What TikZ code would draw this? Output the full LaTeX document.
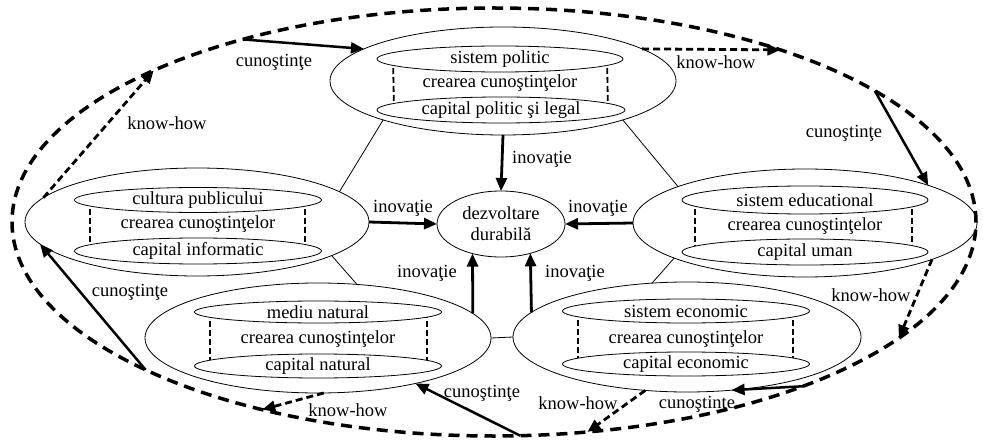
\documentclass[tikz,border=0pt]{standalone}
\usepackage{fontspec}
\setmainfont{Liberation Serif}
\usetikzlibrary{shapes.geometric,arrows.meta,backgrounds}
\begin{document}
\begin{tikzpicture}[x=1pt,y=-1pt,
  every node/.style={font=\fontsize{18.5}{21}\selectfont},
  oval/.style={ellipse,draw,line width=0.8pt,inner sep=0pt,outer sep=0pt},
  inoval/.style={oval,fill=white},
  txt/.style={inner sep=0pt,align=center},
  thinline/.style={line width=0.8pt},
  cylside/.style={line width=1.8pt,dash pattern=on 6pt off 3pt},
  bigdash/.style={ellipse,draw,inner sep=0pt,outer sep=0pt,line width=3.5pt,dash pattern=on 11pt off 7pt},
  innarr/.style={line width=2.8pt,-{Triangle[length=13pt,width=11pt]}},
  solidarr/.style={line width=2.5pt,-{Triangle[length=13pt,width=11pt]}},
  dasharr/.style={line width=2.8pt,dash pattern=on 7pt off 4pt,-{Triangle[length=13pt,width=11pt]}},
]
\useasboundingbox (0,0) rectangle (983,441);

% big dashed ellipse
\node[bigdash,minimum width=964pt,minimum height=428pt] (big) at (494,222) {};

% subsystem outer ellipses
\node[oval,minimum width=346pt,minimum height=108pt] (pol) at (503,81) {};
\node[oval,minimum width=344pt,minimum height=108pt] (cul) at (197,222) {};
\node[oval,minimum width=344pt,minimum height=108pt] (edu) at (805,223) {};
\node[oval,minimum width=346pt,minimum height=110pt] (nat) at (318,338) {};
\node[oval,minimum width=348pt,minimum height=110pt] (eco) at (687,337) {};
\node[oval,minimum width=128pt,minimum height=66pt] (dev) at (501,224) {};

% inner ellipses
\node[inoval,minimum width=246pt,minimum height=26pt] (polA) at (500,59) {};
\node[inoval,minimum width=248pt,minimum height=26pt] (polB) at (501,110) {};
\node[inoval,minimum width=247pt,minimum height=25pt] (culA) at (198,200) {};
\node[inoval,minimum width=247pt,minimum height=26pt] (culB) at (198,251) {};
\node[inoval,minimum width=246pt,minimum height=28pt] (eduA) at (805,200) {};
\node[inoval,minimum width=246pt,minimum height=26pt] (eduB) at (805,252) {};
\node[inoval,minimum width=247pt,minimum height=22pt] (natA) at (318,312) {};
\node[inoval,minimum width=247pt,minimum height=24pt] (natB) at (318,366) {};
\node[inoval,minimum width=247pt,minimum height=24pt] (ecoA) at (686,311) {};
\node[inoval,minimum width=247pt,minimum height=24pt] (ecoB) at (686,364) {};

% dashed cylinder sides
\begin{scope}[on background layer]
\draw[cylside] ([xshift=-107pt]polA.center) -- ([xshift=-107pt]polB.center);
\draw[cylside] ([xshift=107pt]polA.center) -- ([xshift=107pt]polB.center);
\draw[cylside] ([xshift=-108pt]culA.center) -- ([xshift=-108pt]culB.center);
\draw[cylside] ([xshift=107pt]culA.center) -- ([xshift=107pt]culB.center);
\draw[cylside] ([xshift=-110pt]eduA.center) -- ([xshift=-110pt]eduB.center);
\draw[cylside] ([xshift=107pt]eduA.center) -- ([xshift=107pt]eduB.center);
\draw[cylside] ([xshift=-108pt]natA.center) -- ([xshift=-108pt]natB.center);
\draw[cylside] ([xshift=109pt]natA.center) -- ([xshift=109pt]natB.center);
\draw[cylside] ([xshift=-108pt]ecoA.center) -- ([xshift=-108pt]ecoB.center);
\draw[cylside] ([xshift=107pt]ecoA.center) -- ([xshift=107pt]ecoB.center);
\end{scope}

% texts
\node[txt] (polAt) at (500,59) {sistem politic};
\node[txt] (polM) at (500,83) {crearea cunoştinţelor};
\node[txt] (polBt) at (501,110) {capital politic şi legal};
\node[txt] (culAt) at (198,200) {cultura publicului};
\node[txt] (culM) at (198,224) {crearea cunoştinţelor};
\node[txt] (culBt) at (198,251) {capital informatic};
\node[txt] (eduAt) at (805,200) {sistem educational};
\node[txt] (eduM) at (805,226) {crearea cunoştinţelor};
\node[txt] (eduBt) at (805,252) {capital uman};
\node[txt] (natAt) at (318,312) {mediu natural};
\node[txt] (natM) at (318,339) {crearea cunoştinţelor};
\node[txt] (natBt) at (318,366) {capital natural};
\node[txt] (ecoAt) at (686,311) {sistem economic};
\node[txt] (ecoM) at (686,339) {crearea cunoştinţelor};
\node[txt] (ecoBt) at (686,364) {capital economic};
\node[txt] (devt) at (501,224) {dezvoltare\\durabilă};

% thin connecting lines
\draw[thinline] (pol.198.4) -- (cul.12.8);
\draw[thinline] (pol.-18.8) -- (edu.164.7);
\draw[thinline] (cul.-14.2) -- (nat.54.2);
\draw[thinline] (edu.195.9) -- (eco.123);
\draw[thinline] (nat.east) -- (eco.west);

% innovation arrows
\draw[innarr] (pol.south) -- (dev.north);
\draw[innarr] (cul.east) -- (dev.west);
\draw[innarr] (edu.west) -- (dev.east);
\draw[innarr] (nat.9.2) -- (dev.-134.6);
\draw[innarr] (eco.171.4) -- (dev.-45.4);
\node[txt] (i1) at (542,159) {inovaţie};
\node[txt] (i2) at (403,208) {inovaţie};
\node[txt] (i3) at (598,208) {inovaţie};
\node[txt] (i4) at (427,273) {inovaţie};
\node[txt] (i5) at (575,273) {inovaţie};

% knowledge arrows (cunostinte)
\draw[solidarr] (big.144.3) -- (pol.167);
\draw[solidarr] (big.19.7) -- (edu.17.2);
\draw[solidarr] (big.-28.6) -- (eco.-50.9);
\draw[solidarr] (big.-83.1) -- (nat.-25.6);
\draw[solidarr] (big.203.7) -- (cul.188.3);

% know-how arrows
\draw[dasharr] (pol.13.8) -- (big.31.2);
\draw[dasharr] (edu.-16.1) -- (big.-16.1);
\draw[dasharr] (eco.-128.4) -- (big.-66);
\draw[dasharr] (nat.-84.8) -- (big.-141.2);
\draw[dasharr] (cul.171.9) -- (big.156.3);

% labels
\node[txt] (c1) at (274,62) {cunoştinţe};
\node[txt] (k1) at (716,62) {know-how};
\node[txt] (c2) at (844,133) {cunoştinţe};
\node[txt] (k2) at (871,295) {know-how};
\node[txt] (c3) at (697,404) {cunoştinţe};
\node[txt] (k3) at (578,403) {know-how};
\node[txt] (c4) at (482,393) {cunoştinţe};
\node[txt] (k4) at (348,410) {know-how};
\node[txt] (c5) at (130,292) {cunoştinţe};
\node[txt] (k5) at (167,123) {know-how};
\end{tikzpicture}
\end{document}
